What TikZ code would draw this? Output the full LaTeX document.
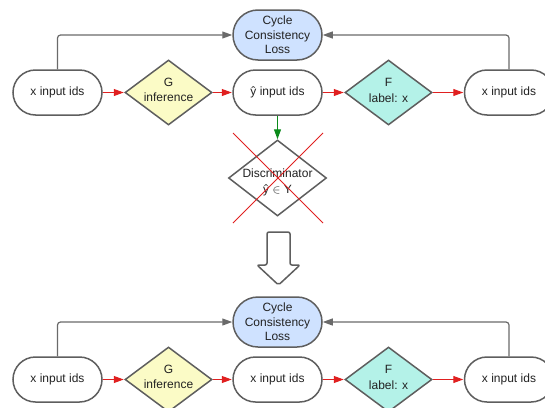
\documentclass[tikz,border=0pt]{standalone}
\usepackage{fontspec}
\setmainfont{Liberation Sans}
\usetikzlibrary{shapes.geometric,arrows.meta}
\definecolor{edgegray}{HTML}{5E5E5E}
\definecolor{linegray}{HTML}{6A6A6A}
\definecolor{lossblue}{HTML}{CFE2FF}
\definecolor{gyellow}{HTML}{FBFBC6}
\definecolor{fteal}{HTML}{B4F2E8}
\definecolor{arrowred}{HTML}{E02020}
\definecolor{arrowgreen}{HTML}{0A8A1A}
\definecolor{txt}{HTML}{222222}
\begin{document}
\begin{tikzpicture}[x=1pt,y=-1pt,
  font=\fontsize{12}{14.3}\selectfont, text=txt,
  pill/.style={draw=edgegray, line width=1.5pt, fill=white, rounded corners=22.5pt,
    minimum width=89pt, minimum height=45pt, inner sep=0pt, align=center},
  losspill/.style={pill, fill=lossblue, minimum height=50pt, rounded corners=25pt},
  dia/.style={diamond, draw=edgegray, line width=1.5pt, inner sep=0pt,
    minimum width=87pt, minimum height=65pt},
  dtext/.style={align=center, inner sep=0pt, font=\fontsize{12}{15.5}\selectfont},
  redarrow/.style={draw=arrowred, line width=1pt, -{Triangle[length=10pt,width=7pt]}, shorten >=0.5pt},
  grayarrow/.style={draw=linegray, line width=1.2pt, rounded corners=3pt, -{Triangle[length=10pt,width=7pt]}},
  greenarrow/.style={draw=arrowgreen, line width=1.2pt, -{Triangle[length=10pt,width=7pt]}},
  crossline/.style={draw=arrowred, line width=0.9pt},
  hollowarrow/.style={draw=edgegray, line width=1.5pt, fill=white, rounded corners=2pt, line join=round}
]
\useasboundingbox (0,0) rectangle (545,407);
\clip (0,0) rectangle (545,407);

% ---------- top row ----------
\node[losspill] (l1) at (277.5,35) {Cycle\\Consistency\\Loss};
\node[pill] (x1) at (57.5,92.5) {x input ids};
\node[dia, fill=gyellow] (g1) at (168.5,92.5) {};
\node[dtext] (g1t) at (168.5,90) {G\\inference};
\node[pill] (y1) at (277.5,92.5) {ŷ input ids};
\node[dia, fill=fteal] (f1) at (388.5,92.5) {};
\node[dtext] (f1t) at (388.5,90.5) {F\\label: x};
\node[pill] (x2) at (509,92.5) {x input ids};

\draw[redarrow] (x1) -- (g1);
\draw[redarrow] (g1) -- (y1);
\draw[redarrow] (y1) -- (f1);
\draw[redarrow] (f1) -- (x2);
\draw[grayarrow] (x1.north) |- (l1.west);
\draw[grayarrow] (x2.north) |- (l1.east);

% ---------- discriminator ----------
\node[dia, fill=white, minimum width=98pt, minimum height=76pt] (d) at (277.5,178) {};
\node[dtext] (dt) at (277.5,182.5) {Discriminator\\ŷ $\in$ Y};
\draw[greenarrow] (y1.south) -- (d.north);
\draw[crossline] (233,133) -- (323,223);
\draw[crossline] (323,133) -- (233,223);

% ---------- hollow down arrow ----------
\draw[hollowarrow] (267,232) -- (290,232) -- (290,265) -- (300,265) -- (278.5,285)
  -- (257,265) -- (267,265) -- cycle;

% ---------- bottom row ----------
\node[losspill] (l2) at (277.5,322) {Cycle\\Consistency\\Loss};
\node[pill] (x3) at (57.5,379.5) {x input ids};
\node[dia, fill=gyellow] (g2) at (168.5,379.5) {};
\node[dtext] (g2t) at (168.5,377) {G\\inference};
\node[pill] (y2) at (277.5,379.5) {x input ids};
\node[dia, fill=fteal] (f2) at (388.5,379.5) {};
\node[dtext] (f2t) at (388.5,377.5) {F\\label: x};
\node[pill] (x4) at (509,379.5) {x input ids};

\draw[redarrow] (x3) -- (g2);
\draw[redarrow] (g2) -- (y2);
\draw[redarrow] (y2) -- (f2);
\draw[redarrow] (f2) -- (x4);
\draw[grayarrow] (x3.north) |- (l2.west);
\draw[grayarrow] (x4.north) |- (l2.east);
\end{tikzpicture}
\end{document}
